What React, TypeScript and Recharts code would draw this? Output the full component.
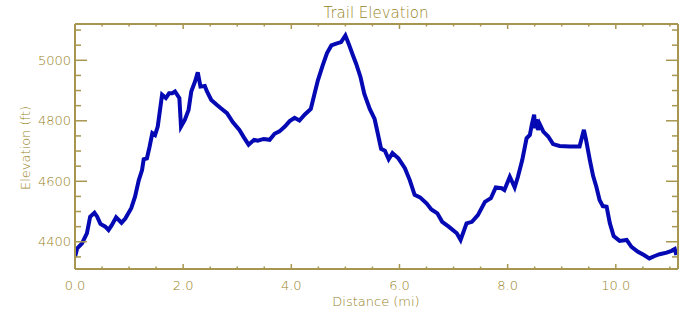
import React from 'react';
import { LineChart, Line, XAxis, YAxis } from 'recharts';

const distance = [
  0.0, 0.04, 0.13, 0.19, 0.22, 0.28, 0.36, 0.41, 0.47, 0.56, 0.62, 0.68, 0.76, 0.86, 0.93,
  1.04, 1.11, 1.18, 1.24, 1.27, 1.33, 1.38, 1.43, 1.48, 1.53, 1.61, 1.68, 1.74, 1.8, 1.85,
  1.93, 1.96, 2.03, 2.1, 2.15, 2.22, 2.27, 2.32, 2.4, 2.44, 2.52, 2.62, 2.72, 2.81, 2.92,
  3.04, 3.12, 3.21, 3.31, 3.38, 3.49, 3.6, 3.69, 3.78, 3.88, 3.97, 4.06, 4.15, 4.25, 4.36,
  4.42, 4.49, 4.58, 4.66, 4.74, 4.83, 4.92, 5.0, 5.06, 5.14, 5.2, 5.28, 5.35, 5.45, 5.54,
  5.6, 5.66, 5.73, 5.8, 5.87, 5.98, 6.1, 6.19, 6.28, 6.38, 6.5, 6.59, 6.7, 6.79, 6.91,
  7.06, 7.13, 7.24, 7.34, 7.45, 7.58, 7.69, 7.78, 7.89, 7.94, 8.04, 8.13, 8.19, 8.27, 8.35,
  8.41, 8.45, 8.49, 8.51, 8.53, 8.56, 8.59, 8.66, 8.75, 8.84, 8.96, 9.15, 9.33, 9.41, 9.45,
  9.52, 9.58, 9.64, 9.7, 9.76, 9.83, 9.89, 9.96, 10.07, 10.2, 10.29, 10.41, 10.52, 10.62, 10.72,
  10.81, 10.94, 11.03, 11.09, 11.12,
];

const elevation = [
  4350, 4378, 4395, 4417, 4428, 4483, 4496, 4483, 4459, 4450, 4439, 4455, 4481, 4463, 4477,
  4511, 4549, 4604, 4637, 4673, 4676, 4715, 4759, 4753, 4781, 4886, 4875, 4891, 4891, 4897,
  4875, 4781, 4803, 4836, 4897, 4930, 4960, 4913, 4915, 4897, 4869, 4853, 4838, 4825, 4795,
  4770, 4746, 4721, 4737, 4734, 4740, 4737, 4757, 4765, 4781, 4799, 4810, 4801, 4821, 4839,
  4883, 4933, 4983, 5024, 5049, 5055, 5060, 5082, 5055, 5016, 4988, 4944, 4889, 4839, 4806,
  4757, 4707, 4701, 4673, 4693, 4676, 4643, 4604, 4555, 4547, 4527, 4507, 4494, 4466, 4450,
  4428, 4406, 4461, 4466, 4488, 4532, 4544, 4580, 4577, 4571, 4615, 4580, 4615, 4670, 4742,
  4753, 4790, 4820, 4775, 4805, 4770, 4790, 4764, 4748, 4723, 4717, 4715, 4715, 4770, 4737,
  4670, 4618, 4582, 4538, 4518, 4516, 4461, 4419, 4403, 4406, 4383, 4367, 4356, 4345, 4353,
  4359, 4364, 4370, 4376, 4356,
];

const xTicks = [0, 0.5, 1, 1.5, 2, 2.5, 3, 3.5, 4, 4.5, 5, 5.5, 6, 6.5, 7, 7.5, 8, 8.5, 9, 9.5, 10, 10.5, 11];
const xMajorTicks = [0, 2, 4, 6, 8, 10];
const yTicks = [4350, 4400, 4450, 4500, 4550, 4600, 4650, 4700, 4750, 4800, 4850, 4900, 4950, 5000, 5050, 5100];
const yMajorTicks = [4400, 4600, 4800, 5000];

const title = 'Trail Elevation';
const xLabel = 'Distance (mi)';
const yLabel = 'Elevation (ft)';

const data = distance.map((d, i) => ({ distance: d, elevation: elevation[i] }));

const AXIS = '#a6964f';
const TEXT = '#96821c';
const LINE = '#0509b4';
const FONT = '"DejaVu Sans", sans-serif';
const WEIGHT = 200;

const isMajorX = (v: number) => xMajorTicks.some((m) => Math.abs(m - v) < 1e-6);
const isMajorY = (v: number) => yMajorTicks.some((m) => Math.abs(m - v) < 1e-6);

const BottomTick = (props: any) => {
  const { x, y, payload } = props;
  const major = isMajorX(payload.value);
  return (
    <g>
      <line x1={x} x2={x} y1={y} y2={y - (major ? 5 : 2.5)} stroke={AXIS} strokeWidth={1.5} />
      {major && (
        <text x={x} y={y + 21} textAnchor="middle" fill={TEXT} fontSize={13} fontFamily={FONT} fontWeight={WEIGHT}>
          {payload.value.toFixed(1)}
        </text>
      )}
    </g>
  );
};

const TopTick = (props: any) => {
  const { x, y, payload } = props;
  const major = isMajorX(payload.value);
  return <line x1={x} x2={x} y1={y} y2={y + (major ? 5 : 2.5)} stroke={AXIS} strokeWidth={1.5} />;
};

const LeftTick = (props: any) => {
  const { x, y, payload } = props;
  const major = isMajorY(payload.value);
  return (
    <g>
      <line x1={x} x2={x + (major ? 12 : 6)} y1={y} y2={y} stroke={AXIS} strokeWidth={1.5} />
      {major && (
        <text x={x - 4} y={y + 4.7} textAnchor="end" fill={TEXT} fontSize={13} fontFamily={FONT} fontWeight={WEIGHT}>
          {payload.value}
        </text>
      )}
    </g>
  );
};

const RightTick = (props: any) => {
  const { x, y, payload } = props;
  const major = isMajorY(payload.value);
  return <line x1={x} x2={x - (major ? 12 : 6)} y1={y} y2={y} stroke={AXIS} strokeWidth={1.5} />;
};

export default function App() {
  return (
    <div style={{ position: 'absolute', left: 0, top: 0, width: 700, height: 320, background: '#fff' }}>
      <LineChart
        width={700}
        height={320}
        data={data}
        margin={{ top: 23, right: 21, bottom: 50, left: 74 }}
      >
        <XAxis
          xAxisId="bottom"
          dataKey="distance"
          type="number"
          domain={[0, 11.15]}
          allowDataOverflow
          ticks={xTicks}
          interval={0}
          height={1}
          tickSize={0}
          tickMargin={0}
          tickLine={false}
          axisLine={{ stroke: AXIS, strokeWidth: 2 }}
          tick={(p: any) => <BottomTick {...p} />}
        />
        <XAxis
          xAxisId="top"
          orientation="top"
          dataKey="distance"
          type="number"
          domain={[0, 11.15]}
          allowDataOverflow
          ticks={xTicks}
          interval={0}
          height={1}
          tickSize={0}
          tickMargin={0}
          tickLine={false}
          axisLine={{ stroke: AXIS, strokeWidth: 2 }}
          tick={(p: any) => <TopTick {...p} />}
        />
        <YAxis
          yAxisId="left"
          type="number"
          domain={[4310, 5120]}
          allowDataOverflow
          ticks={yTicks}
          interval={0}
          width={1}
          tickSize={0}
          tickMargin={0}
          tickLine={false}
          axisLine={{ stroke: AXIS, strokeWidth: 2 }}
          tick={(p: any) => <LeftTick {...p} />}
        />
        <YAxis
          yAxisId="right"
          orientation="right"
          type="number"
          domain={[4310, 5120]}
          allowDataOverflow
          ticks={yTicks}
          interval={0}
          width={1}
          tickSize={0}
          tickMargin={0}
          tickLine={false}
          axisLine={{ stroke: AXIS, strokeWidth: 2 }}
          tick={(p: any) => <RightTick {...p} />}
        />
        <Line
          xAxisId="bottom"
          yAxisId="left"
          type="linear"
          dataKey="elevation"
          stroke={LINE}
          strokeWidth={4}
          dot={false}
          activeDot={false}
          isAnimationActive={false}
        />
      </LineChart>
      <svg
        width={700}
        height={320}
        style={{ position: 'absolute', left: 0, top: 0, pointerEvents: 'none' }}
      >
        <text x={376} y={17.5} textAnchor="middle" fill={TEXT} fontSize={15} fontFamily={FONT} fontWeight={WEIGHT}>
          {title}
        </text>
        <text x={376} y={306} textAnchor="middle" fill={TEXT} fontSize={13} fontFamily={FONT} fontWeight={WEIGHT}>
          {xLabel}
        </text>
        <text
          x={30}
          y={148}
          textAnchor="middle"
          fill={TEXT}
          fontSize={13}
          fontFamily={FONT}
          fontWeight={WEIGHT}
          transform="rotate(-90 30 148)"
        >
          {yLabel}
        </text>
      </svg>
    </div>
  );
}
